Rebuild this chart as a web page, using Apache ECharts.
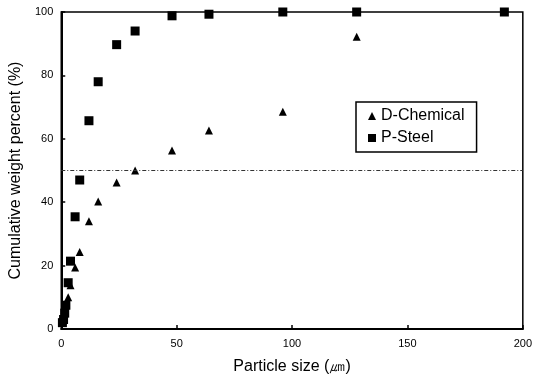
<!DOCTYPE html>
<html>
<head>
<meta charset="utf-8">
<script src="https://cdn.jsdelivr.net/npm/echarts@6/dist/echarts.min.js"></script>
<style>
  html, body { margin: 0; padding: 0; background: #fff; }
  #chart { width: 535px; height: 380px; }
</style>
</head>
<body>
<div id="chart"></div>
<script>
// Particle size (µm) and cumulative weight percent for each powder
const dChemicalSize = [0.5, 1, 1.5, 2, 3, 4, 6, 8, 12, 16, 24, 32, 48, 64, 96, 128];
const dChemicalCum  = [2.5, 4, 6, 7.5, 10, 13.8, 19.4, 24.3, 34, 40.2, 46.2, 50, 56.3, 62.6, 68.5, 92.2];
const pSteelSize = [0.5, 1, 1.5, 2, 3, 4, 6, 8, 12, 16, 24, 32, 48, 64, 96, 128, 192];
const pSteelCum  = [2, 3, 5, 7.5, 14.6, 21.4, 35.4, 47, 65.7, 78, 89.7, 94, 98.8, 99.3, 100, 100, 100];
const xTicks = [0, 50, 100, 150, 200];
const yTicks = [0, 20, 40, 60, 80, 100];
const medianLine = 50;

const pairs = (xs, ys) => xs.map((x, i) => [x, ys[i]]);

const chart = echarts.init(document.getElementById('chart'), null, { renderer: 'canvas' });
const font = 'Liberation Sans, Arial, sans-serif';

chart.setOption({
  backgroundColor: '#fff',
  animation: false,
  grid: {
    left: 59, right: 11, top: 12, bottom: 50,
    show: true, borderColor: '#000', borderWidth: 1.5, backgroundColor: 'transparent'
  },
  legend: {
    left: 356, top: 102,
    orient: 'vertical',
    borderColor: '#000', borderWidth: 1.5,
    padding: [6, 12, 6, 12],
    itemGap: 6,
    itemWidth: 8, itemHeight: 8,
    textStyle: { fontFamily: font, fontSize: 16, color: '#000' },
    data: [
      { name: 'D-Chemical', icon: 'triangle' },
      { name: 'P-Steel', icon: 'rect' }
    ]
  },
  xAxis: {
    type: 'value', min: 0, max: 200, interval: 50,
    name: 'Particle size (㎛)',
    nameLocation: 'middle', nameGap: 30,
    nameTextStyle: { fontFamily: font, fontSize: 16, color: '#000' },
    axisLine: { lineStyle: { color: '#000', width: 2 } },
    axisTick: { inside: true, length: 4, lineStyle: { color: '#000', width: 1.5 } },
    axisLabel: {
      fontFamily: font, fontSize: 11, color: '#000', margin: 9,
      formatter: v => (xTicks.includes(v) ? String(v) : '')
    },
    splitLine: { show: false }
  },
  yAxis: {
    type: 'value', min: 0, max: 100, interval: 20,
    name: 'Cumulative weight percent (%)',
    nameLocation: 'middle', nameGap: 36,
    nameTextStyle: { fontFamily: font, fontSize: 16, color: '#000' },
    axisLine: { lineStyle: { color: '#000', width: 2 } },
    axisTick: { inside: true, length: 4, lineStyle: { color: '#000', width: 1.5 } },
    axisLabel: {
      fontFamily: font, fontSize: 11, color: '#000', margin: 8,
      formatter: v => (yTicks.includes(v) ? String(v) : '')
    },
    splitLine: { show: false }
  },
  series: [
    {
      name: 'D-Chemical',
      type: 'scatter',
      symbol: 'triangle',
      symbolSize: 8,
      itemStyle: { color: '#000', opacity: 1 },
      data: pairs(dChemicalSize, dChemicalCum),
      markLine: {
        silent: true,
        symbol: ['none', 'none'],
        label: { show: false },
        lineStyle: { color: '#333', width: 1, type: [4, 2, 1, 2] },
        data: [{ yAxis: medianLine }]
      },
      z: 3
    },
    {
      name: 'P-Steel',
      type: 'scatter',
      symbol: 'rect',
      symbolSize: 9,
      itemStyle: { color: '#000', opacity: 1 },
      data: pairs(pSteelSize, pSteelCum),
      z: 4
    }
  ]
});
</script>
</body>
</html>
